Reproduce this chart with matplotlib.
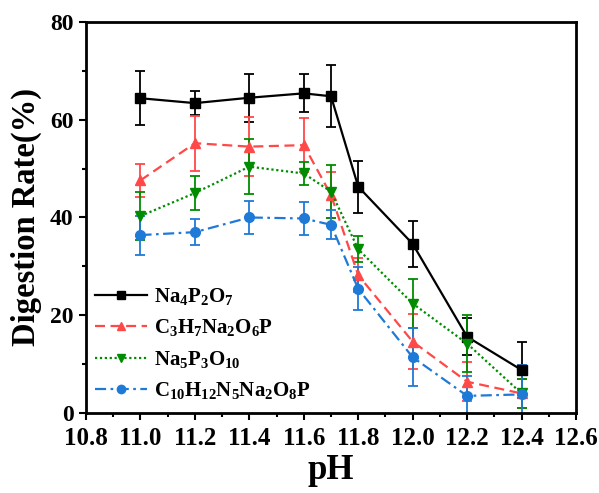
import matplotlib
matplotlib.use('Agg')
import matplotlib.pyplot as plt
from matplotlib.lines import Line2D
from matplotlib.ticker import MultipleLocator

plt.rcParams['font.family'] = ['Liberation Serif', 'DejaVu Serif']
plt.rcParams['font.weight'] = 'bold'
plt.rcParams['mathtext.fontset'] = 'custom'
plt.rcParams['mathtext.rm'] = 'Liberation Serif:bold'
plt.rcParams['mathtext.it'] = 'Liberation Serif:bold'
plt.rcParams['mathtext.bf'] = 'Liberation Serif:bold'

# данные
ph = [11.0, 11.2, 11.4, 11.6, 11.7, 11.8, 12.0, 12.2, 12.4]

na4p2o7 = [64.4, 63.4, 64.5, 65.4, 64.8, 46.3, 34.6, 15.6, 8.8]
na4p2o7_err = [5.5, 2.4, 4.9, 3.9, 6.3, 5.3, 4.7, 3.8, 5.7]

c3h7 = [47.6, 55.2, 54.5, 54.8, 44.6, 28.2, 14.6, 6.4, 4.0]
c3h7_err = [3.4, 5.6, 6.0, 5.5, 4.8, 3.5, 5.6, 4.0, 3.0]

na5p3o10 = [40.3, 45.0, 50.4, 49.0, 45.3, 33.5, 22.4, 14.2, 4.0]
na5p3o10_err = [5.0, 3.5, 5.6, 2.4, 5.4, 2.7, 5.0, 5.8, 3.0]

c10h12 = [36.4, 37.0, 40.0, 39.8, 38.5, 25.4, 11.4, 3.5, 3.8]
c10h12_err = [4.0, 2.7, 3.4, 3.4, 3.0, 4.4, 5.9, 4.0, 6.0]

labels = [r'Na$_4$P$_2$O$_7$', r'C$_3$H$_7$Na$_2$O$_6$P',
          r'Na$_5$P$_3$O$_{10}$', r'C$_{10}$H$_{12}$N$_5$Na$_2$O$_8$P']

fig = plt.figure(figsize=(5.99, 4.93), dpi=100)
ax = fig.add_axes([0.1436, 0.1623, 0.818, 0.7931])

series = [
    (na4p2o7, na4p2o7_err, 'black', 's', '-'),
    (c3h7, c3h7_err, '#FF4848', '^', (0, (4.5, 2.5))),
    (na5p3o10, na5p3o10_err, '#008C00', 'v', (0, (1, 1.2))),
    (c10h12, c10h12_err, '#1E7AD6', 'o', (0, (5, 2, 1.2, 2))),
]
handles = []
for (vals, errs, col, mk, ls), lab in zip(series, labels):
    ax.errorbar(ph, vals, yerr=errs, color=col, marker=mk, markersize=7,
                linestyle=ls, linewidth=1.6, elinewidth=1.3, capsize=3.3,
                capthick=1.3)
    handles.append(Line2D([], [], color=col, marker=mk, markersize=6,
                          linestyle=ls, linewidth=1.6, label=lab))

ax.set_xlim(10.8, 12.6)
ax.set_ylim(0, 80)
ax.xaxis.set_major_locator(MultipleLocator(0.2))
ax.xaxis.set_minor_locator(MultipleLocator(0.1))
ax.yaxis.set_major_locator(MultipleLocator(20))
ax.yaxis.set_minor_locator(MultipleLocator(10))
ax.tick_params(which='both', direction='out', width=1.5)
ax.tick_params(axis='x', labelsize=18, pad=5)
ax.tick_params(axis='y', labelsize=17, pad=4)
ax.tick_params(which='major', length=5)
ax.tick_params(which='minor', length=3)
for lbl in ax.get_xticklabels() + ax.get_yticklabels():
    lbl.set_fontweight('bold')
for sp in ax.spines.values():
    sp.set_linewidth(2)

ax.set_xlabel('pH', fontsize=25, fontweight='bold', labelpad=3)
ax.set_ylabel('Digestion Rate(%)', fontsize=23.5, fontweight='bold', labelpad=6)

ax.legend(handles=handles, loc='lower left', bbox_to_anchor=(0.018, 0.03),
          frameon=False, fontsize=15, handlelength=2.5, handletextpad=0.35,
          labelspacing=0.5, borderpad=0, borderaxespad=0)

fig.savefig('out.png', dpi=100)
